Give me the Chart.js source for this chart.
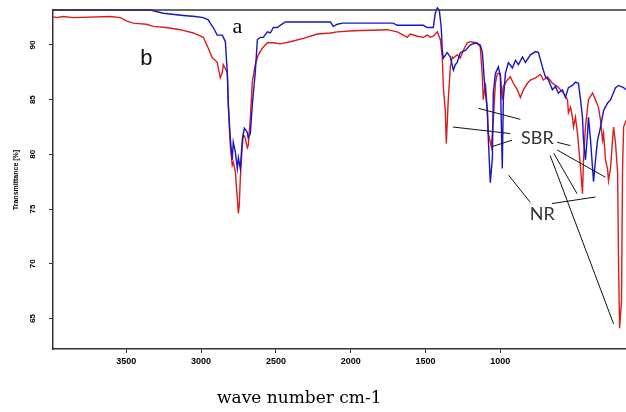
<!DOCTYPE html>
<html><head><meta charset="utf-8">
<script src="https://cdn.jsdelivr.net/npm/chart.js@4"></script>
<style>html,body{margin:0;padding:0;background:#fff;overflow:hidden}canvas{display:block}</style>
</head><body>
<canvas id="c" width="626" height="412"></canvas>
<script>
// ---- data (wavenumber cm-1, transmittance %) ----
const waveA = [3988,3366,3340,3253,3120,3039,2985,2952,2939,2919,2892,2858,2838,2825,2818,2805,2792,2785,2771,2758,2751,2738,2725,2711,2691,2685,2671,2658,2638,2624,2604,2584,2557,2537,2517,2491,2471,2437,2136,2116,2089,2056,1716,1689,1515,1488,1448,1435,1421,1408,1395,1388,1381,1355,1334,1314,1301,1288,1268,1234,1201,1167,1134,1120,1107,1087,1080,1067,1053,1047,1033,1013,1000,987,980,966,946,919,899,879,852,832,799,765,745,719,699,679,652,632,612,585,565,545,518,498,478,464,451,444,431,417,411,397,384,377,364,350,330,310,283,263,230,210,176,160];
const transA = [93.2,93.2,93.2,92.9,92.7,92.6,92.5,92.3,92.0,91.6,90.9,90.9,90.3,87.5,84.5,81.5,79.5,81.1,80.2,78.7,79.7,78.7,81.3,82.4,82.0,81.5,81.9,84.5,87.5,90.5,90.7,90.7,91.2,91.1,91.6,91.6,91.8,92.1,92.1,91.7,91.9,92.0,92.0,91.8,91.8,91.6,91.6,92.9,93.4,93.2,91.6,89.5,88.8,89.3,88.9,87.7,88.2,88.4,89.3,89.5,90.0,90.2,90.0,89.3,86.8,84.0,81.3,77.4,79.7,85.6,87.4,88.0,87.1,78.7,85.0,87.4,88.4,87.9,88.6,88.2,88.9,88.4,89.1,89.4,89.3,88.0,87.1,86.8,85.9,86.2,85.6,85.9,85.2,86.1,86.3,86.6,86.5,85.0,83.4,81.3,79.5,81.9,83.4,81.3,78.8,77.5,79.5,81.3,82.5,84.0,84.7,85.0,86.1,86.3,86.1,85.9];
const waveB = [3988,3968,3921,3854,3607,3540,3500,3453,3366,3320,3233,3139,3052,2985,2972,2952,2925,2905,2892,2885,2872,2858,2852,2825,2818,2805,2792,2785,2771,2758,2751,2745,2738,2725,2718,2705,2691,2685,2671,2658,2638,2618,2591,2557,2517,2471,2404,2317,2223,2136,2089,1983,1756,1689,1649,1622,1602,1555,1515,1488,1468,1448,1421,1401,1388,1381,1368,1361,1348,1334,1321,1314,1288,1268,1248,1221,1201,1154,1134,1120,1114,1100,1087,1080,1060,1047,1033,1020,1000,987,980,953,933,913,886,866,846,819,799,765,732,712,685,652,618,578,551,545,531,518,511,498,484,464,451,444,431,411,384,364,344,330,317,310,297,283,277,263,250,243,230,216,210,203,190,183,176,160];
const transB = [92.6,92.5,92.6,92.5,92.6,92.5,92.2,92.0,91.9,91.7,91.6,91.4,91.1,90.7,90.3,89.7,88.8,88.6,88.4,87.9,87.0,87.5,88.2,87.5,84.5,80.8,79.0,79.3,78.4,76.0,74.6,75.3,77.8,80.8,81.8,81.5,80.6,80.8,83.3,86.6,88.2,89.1,89.7,90.2,90.2,90.1,90.3,90.6,91.0,91.1,91.2,91.3,91.4,91.2,90.9,90.7,91.0,90.8,90.7,90.9,90.7,90.8,91.2,90.5,88.9,86.2,84.0,81.0,85.0,88.0,88.9,88.8,89.1,88.8,89.5,90.2,90.3,90.2,89.8,87.1,85.0,86.5,84.0,81.9,80.7,83.1,86.5,87.4,87.4,85.0,86.2,86.8,87.1,86.5,85.9,85.2,85.9,86.5,86.8,87.0,87.3,86.8,87.1,86.5,86.2,85.6,85.0,83.8,84.3,83.4,82.5,83.4,81.9,78.8,76.4,79.5,82.5,85.0,85.6,85.0,84.3,83.1,81.3,81.9,79.5,78.6,77.6,78.8,81.3,82.5,81.0,78.3,70.3,64.1,66.6,78.8,82.5,83.1];
const xTicks = [3500,3000,2500,2000,1500,1000];
const yTicks = [90,85,80,75,70,65];
const xTitle = 'wave number cm-1';
const yTitle = 'Transmittance [%]';
// annotation texts (data coords)
const labelText = ['a','b','SBR','NR'];
const labelWave = [2758,3366,752,719];
const labelTrans = [91.6,88.7,81.5,74.5];
// leader lines: [wave1, trans1, wave2, trans2]
const leaderLines = [[1317,82.5,933,81.9],[1145,84.2,866,83.2],[1056,80.7,922,81.3],[620,81.1,531,80.8],[620,80.4,297,77.9],[643,80.1,487,76.4],[667,79.9,243,64.5],[945,78.1,799,75.6],[655,75.5,364,76.1]];

const toPts = (w,t) => w.map((v,i)=>({x:v,y:t[i]}));
const AX = '#333';

const extras = {
  id:'extras',
  afterDraw(chart){
    const ctx = chart.ctx, ca = chart.chartArea, xs = chart.scales.x, ys = chart.scales.y;
    ctx.save();
    // top border
    ctx.strokeStyle = AX; ctx.lineWidth = 1.5;
    ctx.beginPath(); ctx.moveTo(ca.left, ca.top); ctx.lineTo(ca.right, ca.top); ctx.stroke();
    // y tick labels (rotated)
    ctx.fillStyle = '#000'; ctx.font = 'bold 8px Arial';
    ctx.textAlign = 'center'; ctx.textBaseline = 'middle';
    yTicks.forEach(v=>{
      const y = ys.getPixelForValue(v);
      ctx.save(); ctx.translate(33, y); ctx.rotate(-Math.PI/2); ctx.fillText(String(v),0,0); ctx.restore();
    });
    // y title
    ctx.font = 'bold 7px Arial';
    ctx.save(); ctx.translate(16, 180); ctx.rotate(-Math.PI/2); ctx.fillText(yTitle,0,0); ctx.restore();
    // x title
    ctx.font = '17px "DejaVu Serif"'; ctx.textAlign = 'left';
    ctx.fillText(xTitle, 217, 399);
    // leader lines
    ctx.strokeStyle = '#111'; ctx.lineWidth = 1;
    leaderLines.forEach(l=>{
      ctx.beginPath();
      ctx.moveTo(xs.getPixelForValue(l[0]), ys.getPixelForValue(l[1]));
      ctx.lineTo(xs.getPixelForValue(l[2]), ys.getPixelForValue(l[3]));
      ctx.stroke();
    });
    // labels
    const fonts = ['22px "Liberation Serif"','22px Arial','18px Lato','18px Lato'];
    const cols = ['#000','#111','#333','#333'];
    ctx.textAlign = 'center'; ctx.textBaseline = 'middle';
    labelText.forEach((t,i)=>{
      ctx.font = fonts[i]; ctx.fillStyle = cols[i];
      ctx.fillText(t, xs.getPixelForValue(labelWave[i]), ys.getPixelForValue(labelTrans[i]));
    });
    ctx.restore();
  }
};

new Chart(document.getElementById('c'), {
  type:'scatter',
  data:{datasets:[
    {label:'a', data:toPts(waveA,transA), showLine:true, borderColor:'#1616c8', borderWidth:1.4, pointRadius:0, clip:false},
    {label:'b', data:toPts(waveB,transB), showLine:true, borderColor:'#dc1c1c', borderWidth:1.4, pointRadius:0, clip:false}
  ]},
  options:{
    responsive:false, animation:false, devicePixelRatio:1,
    layout:{padding:{left:0,top:10,right:0,bottom:0}},
    plugins:{legend:{display:false}, tooltip:{enabled:false}},
    scales:{
      x:{type:'linear', reverse:true, min:160, max:3990,
        afterBuildTicks:s=>{s.ticks = xTicks.map(v=>({value:v}));},
        afterFit:s=>{s.height = 63;},
        grid:{drawOnChartArea:false, drawTicks:true, tickLength:4, color:AX, lineWidth:1},
        border:{display:true, color:AX, width:1.5},
        ticks:{color:'#000', font:{family:'Arial', size:9, weight:'bold'}, padding:3, maxRotation:0, autoSkip:false,
          callback:v=>String(v)}
      },
      y:{type:'linear', min:62.2, max:93.2,
        afterBuildTicks:s=>{s.ticks = yTicks.map(v=>({value:v}));},
        afterFit:s=>{s.width = 53;},
        grid:{drawOnChartArea:false, drawTicks:true, tickLength:4, color:AX, lineWidth:1},
        border:{display:true, color:AX, width:1.5},
        ticks:{display:false}
      }
    }
  },
  plugins:[extras]
});
</script>
</body></html>
